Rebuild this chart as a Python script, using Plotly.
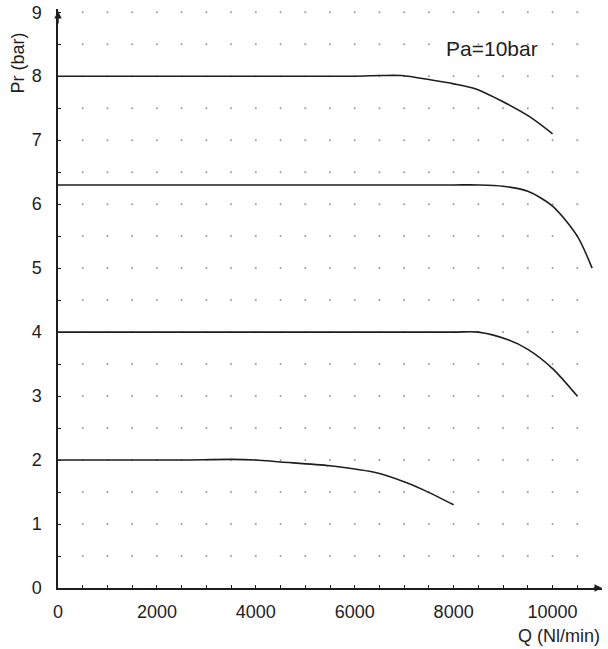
import numpy as np
import plotly.graph_objects as go

# Data
q8 = [0, 2000, 4000, 6000, 6500, 6950, 7550, 8000, 8450, 9000, 9550, 10000]
p8 = [8.0, 8.0, 8.0, 8.0, 8.01, 8.01, 7.94, 7.88, 7.8, 7.6, 7.36, 7.1]

q63 = [0, 2000, 4000, 6000, 8000, 8500, 9000, 9500, 10000, 10500, 10800]
p63 = [6.3, 6.3, 6.3, 6.3, 6.3, 6.3, 6.28, 6.2, 5.97, 5.5, 5.0]

q4 = [0, 2000, 4000, 6000, 8000, 8500, 9100, 9500, 10000, 10500]
p4 = [4.0, 4.0, 4.0, 4.0, 4.0, 4.0, 3.88, 3.73, 3.43, 3.0]

q2 = [0, 1500, 2500, 3500, 4000, 4500, 5500, 6500, 7000, 7400, 8000]
p2 = [2.0, 2.0, 2.0, 2.01, 2.0, 1.97, 1.91, 1.79, 1.66, 1.53, 1.3]

series = [(q8, p8), (q63, p63), (q4, p4), (q2, p2)]

x_ticks = [0, 2000, 4000, 6000, 8000, 10000]
y_ticks = [0, 1, 2, 3, 4, 5, 6, 7, 8, 9]
annotation_text = "Pa=10bar"
x_title = "Q (Nl/min)"
y_title = "Pr (bar)"

FONT = "Liberation Sans, Arial, sans-serif"
INK = "#1e1e1e"

fig = go.Figure()

# dotted grid (dots at grid intersections)
gx = np.arange(500, 10501, 500)
gy = np.arange(0.5, 9.01, 0.5)
GX, GY = np.meshgrid(gx, gy)
fig.add_trace(go.Scatter(x=GX.ravel(), y=GY.ravel(), mode="markers",
                         marker=dict(size=2, color="#9a9a9a", line=dict(width=0)),
                         hoverinfo="skip", showlegend=False))

for q, p in series:
    fig.add_trace(go.Scatter(x=q, y=p, mode="lines",
                             line=dict(color=INK, width=1.6, shape="spline", smoothing=0.8),
                             showlegend=False))

axis_common = dict(showgrid=False, zeroline=False, showline=True, linecolor=INK, linewidth=1.5,
                   ticks="inside", ticklen=3, tickcolor=INK, ticklabeloverflow="allow",
                   automargin=False,
                   tickfont=dict(family=FONT, size=18, color=INK))

fig.update_xaxes(range=[0, 11000], tickvals=x_ticks, ticktext=[str(v) for v in x_ticks],
                 minor=dict(ticks="inside", ticklen=3, dtick=500, tick0=0, tickcolor=INK),
                 ticklabelstandoff=7, **axis_common)
fig.update_yaxes(range=[0, 9.05], tickvals=y_ticks, ticktext=[str(v) for v in y_ticks],
                 minor=dict(ticks="inside", ticklen=3, dtick=0.5, tick0=0, tickcolor=INK),
                 ticklabelstandoff=11, **axis_common)

# axis arrows
fig.add_annotation(x=0, y=9.02, ax=0, ay=8.8, xref="x", yref="y", axref="x", ayref="y",
                   text="", showarrow=True, arrowhead=2, arrowsize=1, arrowwidth=1.5,
                   arrowcolor=INK)
fig.add_annotation(x=11000, y=0, ax=10800, ay=0, xref="x", yref="y", axref="x", ayref="y",
                   text="", showarrow=True, arrowhead=2, arrowsize=1, arrowwidth=1.5,
                   arrowcolor=INK)

fig.add_annotation(x=8776, y=8.44, xref="x", yref="y", text=annotation_text, showarrow=False,
                   font=dict(family=FONT, size=21, color=INK), xanchor="center", yanchor="middle")
fig.add_annotation(x=1.0, y=-0.062, xref="paper", yref="paper", text=x_title, showarrow=False,
                   font=dict(family=FONT, size=18, color=INK), xanchor="right", yanchor="top")
fig.add_annotation(x=-0.0735, y=8.2, xref="paper", yref="y", text=y_title, showarrow=False,
                   textangle=-90, font=dict(family=FONT, size=18, color=INK),
                   xanchor="center", yanchor="middle")

fig.update_layout(width=608, height=649, margin=dict(l=58, r=6, t=9, b=61),
                  paper_bgcolor="white", plot_bgcolor="white",
                  font=dict(family=FONT, color=INK))

# remove the default 8px page margin so the figure fills the window exactly
fig.write_html("out.html", config={"displayModeBar": False},
               post_script="document.body.style.margin='0';")
